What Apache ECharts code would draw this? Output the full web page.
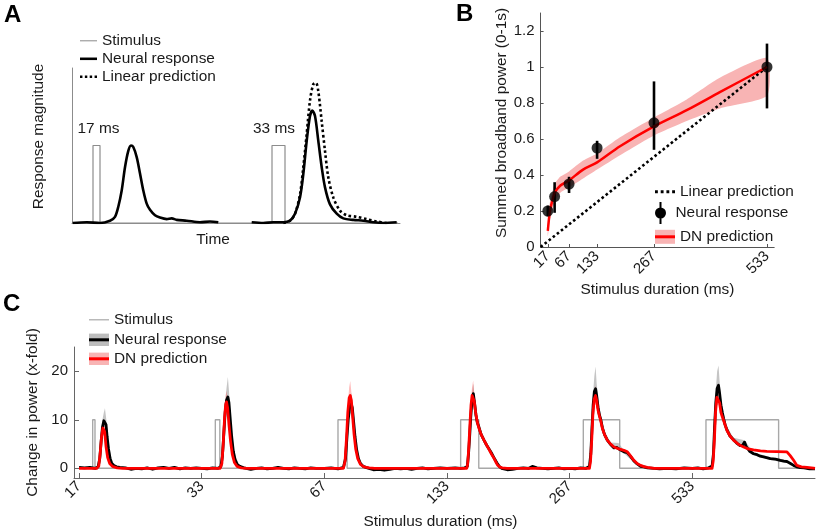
<!DOCTYPE html>
<html><head><meta charset="utf-8">
<script src="https://cdn.jsdelivr.net/npm/echarts@6/dist/echarts.min.js"></script>
<style>html,body{margin:0;padding:0;background:#fff}#c{width:820px;height:530px}</style>
</head><body><div id="c"></div>
<script>
// ================= Panel A data (time units, response relative to stimulus height) =================
const aSegStart = [0, 180];
const aSegEnd = [146, 326];
const aStimOn = [21, 200];
const aStimOff = [28, 213];
const aStimHeight = 1;
const aLabelText = ['17 ms', '33 ms'];
const aLabelX = [26.5, 202];
const aLabelY = [1.22, 1.22];
const aNeural17 = [[0.7,0],[14.7,0.01],[28,0],[38,0.03],[43,0.08],[46.3,0.21],[49.7,0.42],[53,0.72],[56.3,0.93],[59,1.0],[61.3,0.98],[64.7,0.85],[68,0.64],[71.3,0.42],[74.7,0.25],[78,0.17],[83,0.1],[88,0.07],[94.7,0.05],[99.7,0.06],[104.7,0.04],[114.7,0.03],[128,0.01],[138,0.02],[146.3,0.01]];
const aNeural33 = [[179.7,0.01],[191.3,0],[201.3,0.01],[211.3,0.01],[218,0.03],[223,0.12],[228,0.33],[231.3,0.63],[234.7,1.06],[238,1.38],[240.3,1.45],[243,1.38],[246.3,1.06],[249.7,0.72],[253,0.46],[258,0.24],[264.7,0.12],[271.3,0.06],[281.3,0.04],[291.3,0.03],[301.3,0.01],[311.3,0],[324.7,0.01]];
const aLinear33 = [[211.3,0],[218,0.03],[223,0.12],[228,0.37],[231.3,0.72],[234.7,1.15],[238,1.58],[241.3,1.79],[244,1.81],[246.3,1.70],[249.7,1.31],[253,0.93],[256.3,0.59],[261.3,0.33],[268,0.16],[274.7,0.1],[284.7,0.08],[294.7,0.05],[304.7,0.02],[314.7,0]];

// ================= Panel B data =================
const bDur = [17, 33, 67, 133, 267, 533];
const bNeural = [0.20, 0.28, 0.35, 0.55, 0.69, 1.00];
const bErrLo = [0.17, 0.19, 0.30, 0.49, 0.54, 0.77];
const bErrHi = [0.23, 0.36, 0.39, 0.59, 0.92, 1.13];
const bDnX = [17, 22, 28, 33, 46, 67, 100, 133, 187, 267, 344, 422, 533];
const bDnY = [0.09, 0.20, 0.26, 0.30, 0.34, 0.37, 0.43, 0.47, 0.56, 0.67, 0.76, 0.86, 1.0];
const bDnLo = [0.06, 0.15, 0.21, 0.25, 0.30, 0.33, 0.38, 0.43, 0.51, 0.62, 0.70, 0.77, 0.84];
const bDnHi = [0.13, 0.25, 0.31, 0.35, 0.39, 0.42, 0.48, 0.52, 0.61, 0.72, 0.82, 0.94, 1.05];
const bLinX = [0, 533];
const bLinY = [0, 1];
const bYTicks = [0, 0.2, 0.4, 0.6, 0.8, 1, 1.2];

// ================= Panel C data (ms relative to stimulus onset) =================
const cDur = [17, 33, 67, 133, 267, 533];
const cSegLen = 900;     // ms per trial window
const cOnset = 100;      // stimulus onset within window (ms)
const cStimHeight = 10;
const cYTicks = [0, 10, 20];
const cNeural = [
  [[-100,0.2],[-60,0.1],[-20,0.2],[20,0],[40,0.3],[52,2],[62,5.5],[72,8.5],[82,9.8],[90,10],[98,9],[106,6.5],[116,4],[128,2],[140,1],[155,0.6],[175,0.3],[200,0.2],[240,0.1],[280,-0.2],[320,0],[360,-0.1],[400,0.1],[440,-0.2],[480,0.1],[520,0.2],[560,0],[600,0.2],[640,-0.1],[680,0.1],[720,0],[760,0.1],[800,0]],
  [[-100,0.1],[-60,-0.1],[-20,0.1],[20,0],[40,0.3],[52,2.5],[62,7],[72,11.5],[82,14],[92,14.7],[100,13.5],[110,10],[120,6.5],[132,3.5],[145,1.8],[160,0.8],[180,0.4],[210,0.1],[260,-0.2],[300,0],[340,0.1],[380,-0.1],[420,0],[460,0.2],[500,0],[540,-0.1],[580,0.1],[620,0],[660,-0.1],[700,0.1],[740,0],[800,0]],
  [[-100,0],[-50,0.1],[0,-0.1],[40,0.2],[55,2],[65,6],[75,10],[85,12.5],[97,13.3],[105,12.5],[115,9.5],[125,6.5],[137,3.8],[150,2],[165,1],[185,0.4],[215,0.1],[260,-0.3],[300,-0.2],[340,-0.4],[380,-0.2],[420,0],[460,-0.1],[500,0],[540,-0.2],[580,0],[620,0.1],[660,-0.1],[700,0],[750,0.1],[800,0]],
  [[-100,0],[-40,0.1],[0,0],[30,0.1],[49,0.4],[58,3],[66,6.5],[74,10.5],[82,13.5],[93,15.4],[102,13.5],[112,11],[122,9.5],[134,8.5],[150,7],[171,5.8],[190,4.8],[208,4],[225,3.2],[244,2.2],[258,1.5],[269,1],[283,0.4],[300,0],[342,-0.3],[380,-0.2],[420,0],[460,0.1],[500,0],[526,0.4],[560,0.1],[600,0],[640,-0.1],[680,0],[720,0.1],[760,-0.1],[800,0]],
  [[-100,0],[-60,-0.1],[-20,0.1],[20,0],[45,0.4],[55,3],[63,8],[72,13],[81,15.8],[90,16.4],[98,15],[108,12.6],[118,11],[127,10.2],[140,8.4],[155,7],[176,5.8],[200,4.9],[225,4.2],[245,4.3],[258,4.7],[270,3.8],[298,3.4],[323,3.2],[345,2.5],[371,1.5],[395,0.9],[420,0.4],[445,0.3],[470,0.1],[520,0],[560,-0.1],[620,0],[680,-0.1],[740,0.1],[800,0]],
  [[-100,0],[-60,0.1],[-20,-0.1],[20,0.1],[45,0.5],[55,3],[63,8.5],[72,13.5],[82,16.5],[92,17.1],[100,15.5],[110,13],[120,11.5],[129,10.3],[140,9],[154,7.9],[175,6.7],[202,5.9],[225,5.2],[250,4.7],[268,4.7],[283,5.4],[295,4.5],[320,3.5],[349,3],[375,2.8],[398,2.5],[430,2.3],[472,2],[510,1.9],[545,1.65],[570,1.5],[594,1.4],[620,1],[643,0.6],[665,0.3],[692,0.15],[720,0.1],[760,-0.1],[800,-0.1]]
];
const cDN = [
  [[-100,0],[30,0],[45,0.5],[55,3],[65,6.5],[75,8.3],[80,8.5],[88,7.5],[98,4.5],[110,2.2],[125,1],[145,0.4],[180,0.1],[220,0],[800,0]],
  [[-100,0],[35,0],[48,1],[58,5],[68,10.5],[76,13.2],[82,13.7],[90,12.5],[100,9],[112,5.5],[125,2.8],[140,1.2],[160,0.4],[190,0.1],[230,0],[800,0]],
  [[-100,0],[40,0],[52,1.5],[62,6],[72,11.5],[82,14.5],[90,15],[98,14],[108,10.5],[118,7],[130,4],[145,2],[165,0.8],[190,0.3],[230,0.1],[270,0],[800,0]],
  [[-100,0],[45,0],[52,1],[60,4.5],[68,9],[76,13],[84,15],[92,15.3],[100,13.8],[110,11.5],[122,9.5],[134,8.3],[150,7],[171,5.8],[190,4.8],[208,3.9],[225,3],[244,2.1],[258,1.3],[270,0.7],[285,0.3],[305,0.1],[340,0],[800,0]],
  [[-100,0],[45,0],[53,1.5],[62,6],[70,11],[80,14.3],[90,15],[98,14],[108,12],[118,10.8],[127,9.9],[140,8.2],[155,7],[176,5.8],[200,5],[225,4.4],[260,4],[298,3.7],[323,3.4],[345,2.6],[371,1.65],[395,1],[420,0.6],[445,0.35],[470,0.2],[520,0],[800,0]],
  [[-100,0],[45,0],[53,1.5],[62,6],[70,11.5],[80,14.6],[92,15],[100,13.5],[110,11.5],[129,9.9],[154,7.8],[178,6.6],[202,5.8],[240,4.9],[276,4.4],[310,4],[349,3.8],[400,3.6],[447,3.5],[520,3.45],[594,3.4],[618,2.6],[643,1.65],[667,0.6],[700,0.3],[741,0.2],[789,0.05],[800,0]]
];
// [t, lower, upper]
const cNeuralBand = [
  [[50,0.5,1.5],[62,4,7],[72,7,10],[82,8.5,11.5],[90,8.5,12.4],[98,7.5,10.5],[108,5,8],[120,2.8,4.8],[135,1.2,2.4],[155,0.4,0.9]],
  [[50,1.5,3.5],[62,5.5,8.5],[72,9.5,13.5],[82,12,16.5],[92,12.5,18.8],[100,11.5,16],[110,8.5,11.5],[122,5.5,7.5],[135,2.8,4.2],[150,1.3,2.3],[170,0.5,1.1]],
  [[55,1.2,2.8],[65,4.8,7.2],[75,8.5,11.5],[85,11,14.2],[97,11.5,15.5],[105,11,14],[115,8.3,10.7],[125,5.5,7.5],[137,3.2,4.4],[150,1.6,2.4]],
  [[58,2.3,3.7],[66,5.5,7.5],[74,9,12],[82,12,15.2],[93,13.6,17.5],[102,12.3,14.8],[112,10.2,11.8],[134,8,9],[171,5.4,6.2],[208,3.6,4.4],[244,1.8,2.6],[270,0.7,1.3]],
  [[55,2,4],[63,6.5,9.5],[72,11,15.5],[81,13.5,19],[90,13.5,21],[98,12.8,17.5],[108,11.3,14.7],[118,10.3,12.7],[127,9.5,11.5],[140,7.8,9.2],[160,6.3,7.3],[200,4.7,5.3],[258,4.2,5.2],[298,3.1,3.7],[347,1.8,2.2]],
  [[55,2,4],[63,7,10],[72,11.5,16],[82,14.5,20],[92,14.5,21.2],[100,13,18],[110,11.5,14.5],[129,9.5,11.5],[154,7.4,8.6],[202,5.5,6.3],[283,4.8,5.8],[349,2.7,3.3],[472,1.7,2.3],[594,1.1,1.7]]
];
const cDNBand = [
  [[48,0.7,1.3],[58,2.5,4.5],[68,5.5,8],[78,7.5,9.5],[86,7,9],[98,3.8,5.2],[112,1.8,2.6],[130,0.6,1.2]],
  [[48,0.6,1.4],[58,4,6],[68,9,12],[76,11.5,15],[82,12,16],[90,11,14],[100,8,10],[112,4.8,6.2],[125,2.3,3.3],[145,0.8,1.4]],
  [[52,1,2],[62,4.8,7.2],[72,9.8,13.2],[82,12.5,16.7],[90,12.8,18],[98,12.2,15.8],[108,9.3,11.7],[118,6.2,7.8],[130,3.5,4.5],[145,1.7,2.3]],
  [[52,0.7,1.3],[60,3.8,5.2],[68,8,10],[76,11.5,14.5],[84,13.3,16.8],[92,13.6,18.1],[100,12.3,15.3],[110,10.5,12.5],[122,9,10],[134,7.9,8.7]],
  [[53,1,2],[62,5,7],[70,9.8,12.2],[80,12.8,15.8],[90,13.2,17],[98,12.6,15.4],[108,11,13],[127,9.3,10.5],[155,6.6,7.4]],
  [[53,1,2],[62,5,7],[70,10,13],[80,13,16.3],[92,13.2,17],[100,12,15],[110,10.5,12.5],[129,9.3,10.5],[154,7.4,8.2]]
];

// ================= Build =================
const FONT = '"Liberation Sans", Arial, Helvetica, sans-serif';
const TXT = '#1a1a1a';
const RED = '#ff0000';
const FS = 15.4;   // general text size
const TS = 15;     // tick label size

function stimSteps(starts, ons, offs, ends, h) {
  const pts = [];
  for (let i = 0; i < ons.length; i++) {
    pts.push([starts[i], 0], [ons[i], 0], [ons[i], h], [offs[i], h], [offs[i], 0], [ends[i], 0]);
  }
  return pts;
}
const cSegStart = cDur.map((d, k) => k * cSegLen);
const cSegEnd = cDur.map((d, k) => (k + 1) * cSegLen);
const cOn = cSegStart.map(s => s + cOnset);
const cOff = cDur.map((d, k) => cOn[k] + d);
function cAbs(segs) {
  const out = [];
  segs.forEach((arr, k) => arr.forEach(p => out.push([cOn[k] + p[0], p[1]])));
  return out;
}
function bandRender(bands, fill) {
  return function (params, api) {
    const k = params.dataIndex;
    const band = bands[k];
    const up = band.map(p => api.coord([cOn[k] + p[0], p[2]]));
    const lo = band.slice().reverse().map(p => api.coord([cOn[k] + p[0], p[1]]));
    return { type: 'polygon', shape: { points: up.concat(lo) }, style: { fill: fill } };
  };
}
// one legend component per row (overlay rows use transparent text so they align exactly)
function lg(name, icon, color, left, top, w, h, overlay) {
  return {
    orient: 'horizontal', left: left, top: top, padding: 0, itemWidth: w, itemHeight: h, selectedMode: false,
    textStyle: { fontSize: FS, color: overlay ? 'rgba(0,0,0,0)' : TXT, fontFamily: FONT },
    itemStyle: { borderWidth: 0 },
    data: [{ name: name, icon: icon, itemStyle: { color: color, borderWidth: 0 } }]
  };
}
const ICON_THIN = 'path://M0,0h20v1.2h-20z';
const ICON_THICK = 'path://M0,0h20v3h-20z';
const ICON_DOT = 'path://M0,0h3v3h-3z M6,0h3v3h-3z M12,0h3v3h-3z M18,0h3v3h-3z';
const ICON_ERR = 'path://M5,0h2v22h-2z M0.5,11a5.5,5.5 0 1,1 11,0a5.5,5.5 0 1,1 -11,0z';
const ICON_BAND14 = 'path://M0,0h20v14h-20z';
const ICON_BAND13 = 'path://M0,0h21v13h-21z';

const axisLbl = { fontSize: TS, color: TXT, fontFamily: FONT };
const nameStyle = { fontSize: FS, color: TXT, fontFamily: FONT };
const HALF = FS / 2 - 2;

const option = {
  animation: false,
  backgroundColor: '#fff',
  textStyle: { fontFamily: FONT },
  title: [
    { text: 'A', left: 4, top: 3, padding: 0, textStyle: { fontSize: 24, fontWeight: 'bold', color: '#000', fontFamily: FONT } },
    { text: 'B', left: 456, top: 2, padding: 0, textStyle: { fontSize: 24, fontWeight: 'bold', color: '#000', fontFamily: FONT } },
    { text: 'C', left: 3, top: 292, padding: 0, textStyle: { fontSize: 24, fontWeight: 'bold', color: '#000', fontFamily: FONT } }
  ],
  grid: [
    { left: 72, top: 68, width: 328, height: 155 },
    { left: 540.6, top: 13, width: 233.6, height: 234 },
    { left: 74, top: 347, width: 741, height: 131 }
  ],
  xAxis: [
    { gridIndex: 0, type: 'value', min: 0, max: 328,
      axisLine: { show: true, lineStyle: { color: '#8c8c8c', width: 1 } }, axisTick: { show: false }, axisLabel: { show: false }, splitLine: { show: false },
      name: 'Time', nameLocation: 'middle', nameGap: 9, nameTextStyle: Object.assign({ padding: [0, 46, 0, 0] }, nameStyle) },
    { gridIndex: 1, type: 'value', min: 0, max: 550,
      axisLine: { show: true, onZero: false, lineStyle: { color: '#555', width: 1 } },
      axisTick: { show: true, inside: true, length: 3, customValues: bDur, lineStyle: { color: '#555' } },
      axisLabel: Object.assign({ customValues: bDur, rotate: 45, margin: 7, showMinLabel: true, showMaxLabel: true, hideOverlap: false }, axisLbl), splitLine: { show: false },
      name: 'Stimulus duration (ms)', nameLocation: 'middle', nameGap: 35, nameTextStyle: nameStyle },
    { gridIndex: 2, type: 'value', min: -37, max: 5400,
      axisLine: { show: true, onZero: false, lineStyle: { color: '#666', width: 1 } },
      axisTick: { show: true, inside: true, length: 5, customValues: cSegStart, lineStyle: { color: '#666' } },
      axisLabel: Object.assign({ customValues: cSegStart, rotate: 45, margin: 6, showMinLabel: true, showMaxLabel: true, formatter: v => String(cDur[Math.round(v / cSegLen)]) }, axisLbl),
      splitLine: { show: false },
      name: 'Stimulus duration (ms)', nameLocation: 'middle', nameGap: 36, nameTextStyle: Object.assign({ padding: [0, 8, 0, 0] }, nameStyle) }
  ],
  yAxis: [
    { gridIndex: 0, type: 'value', min: 0, max: 2,
      axisLine: { show: true, lineStyle: { color: '#8c8c8c', width: 1 } }, axisTick: { show: false }, axisLabel: { show: false }, splitLine: { show: false },
      name: 'Response magnitude', nameLocation: 'middle', nameGap: 26, nameTextStyle: Object.assign({ padding: [0, 0, 0, 18] }, nameStyle) },
    { gridIndex: 1, type: 'value', min: 0, max: 1.3,
      axisLine: { show: true, onZero: false, lineStyle: { color: '#555', width: 1 } },
      axisTick: { show: true, inside: true, length: 3, customValues: bYTicks, lineStyle: { color: '#555' } },
      axisLabel: Object.assign({ customValues: bYTicks, margin: 6, showMinLabel: true, showMaxLabel: true }, axisLbl), splitLine: { show: false },
      name: 'Summed broadband power (0-1s)', nameLocation: 'middle', nameGap: 31, nameTextStyle: Object.assign({ padding: [0, 0, 0, 14] }, nameStyle) },
    { gridIndex: 2, type: 'value', min: -2, max: 25,
      axisLine: { show: true, onZero: false, lineStyle: { color: '#666', width: 1 } },
      axisTick: { show: true, inside: true, length: 5, customValues: cYTicks, lineStyle: { color: '#666' } },
      axisLabel: Object.assign({ customValues: cYTicks, margin: 6, showMinLabel: true, showMaxLabel: true }, axisLbl), splitLine: { show: false },
      name: 'Change in power (x-fold)', nameLocation: 'middle', nameGap: 28, nameTextStyle: nameStyle }
  ],
  legend: [
    // Panel A
    lg('Stimulus', ICON_THIN, '#8c8c8c', 80, 39 - HALF, 17, 14),
    lg('Neural response', ICON_THICK, '#000', 80, 57 - HALF, 17, 14),
    lg('Linear prediction', ICON_DOT, '#000', 80, 75 - HALF, 17, 14),
    // Panel B
    lg('Linear prediction', ICON_DOT, '#000', 655, 190 - HALF, 20, 22),
    lg('Neural response', ICON_ERR, '#000', 655, 213 - 11, 20, 22),
    lg('DN prediction', ICON_BAND14, '#f8b4b4', 655, 235 - HALF, 20, 22),
    lg('DN prediction', ICON_THICK, RED, 655, 235 - HALF, 20, 22, true),
    // Panel C
    lg('Stimulus', ICON_THIN, '#a8a8a8', 89, 318 - HALF, 20, 15),
    lg('Neural response', ICON_BAND13, '#bdbdbd', 89, 338 - HALF, 20, 15),
    lg('Neural response', ICON_THICK, '#000', 89, 338 - HALF, 20, 15, true),
    lg('DN prediction', ICON_BAND13, '#f8b4b4', 89, 357 - HALF, 20, 15),
    lg('DN prediction', ICON_THICK, RED, 89, 357 - HALF, 20, 15, true)
  ],
  series: [
    // ---------- Panel A ----------
    { type: 'line', name: 'Stimulus', xAxisIndex: 0, yAxisIndex: 0, symbol: 'none', silent: true,
      data: stimSteps(aSegStart, aStimOn, aStimOff, aSegEnd, aStimHeight),
      lineStyle: { color: '#8c8c8c', width: 1.2 }, itemStyle: { color: '#8c8c8c' },
      markPoint: { symbol: 'circle', symbolSize: 0, silent: true,
        label: { show: true, position: 'inside', fontSize: FS, color: TXT, fontFamily: FONT },
        data: aLabelText.map((t, i) => ({ coord: [aLabelX[i], aLabelY[i]], label: { formatter: t } })) } },
    { type: 'line', name: 'Linear prediction', xAxisIndex: 0, yAxisIndex: 0, symbol: 'none', silent: true, smooth: 0.3,
      data: aLinear33, lineStyle: { color: '#000', width: 2.6, type: 'dotted' }, itemStyle: { color: '#000' } },
    { type: 'line', name: 'Neural response', xAxisIndex: 0, yAxisIndex: 0, symbol: 'none', silent: true, smooth: 0.3,
      data: aNeural17, lineStyle: { color: '#000', width: 2.6 }, itemStyle: { color: '#000' } },
    { type: 'line', name: 'Neural response', xAxisIndex: 0, yAxisIndex: 0, symbol: 'none', silent: true, smooth: 0.3,
      data: aNeural33, lineStyle: { color: '#000', width: 2.6 }, itemStyle: { color: '#000' } },

    // ---------- Panel B ----------
    { type: 'custom', name: 'DN band B', xAxisIndex: 1, yAxisIndex: 1, silent: true, clip: true,
      data: [[bDnX[0], bDnY[0]]],
      renderItem: function (params, api) {
        const up = bDnX.map((x, i) => api.coord([x, bDnHi[i]]));
        const lo = bDnX.map((x, i) => api.coord([x, bDnLo[i]])).reverse();
        return { type: 'polygon', shape: { points: up.concat(lo), smooth: 0.2 }, style: { fill: '#f8b4b4' } };
      } },
    { type: 'line', name: 'Linear prediction', xAxisIndex: 1, yAxisIndex: 1, symbol: 'none', silent: true,
      data: bLinX.map((x, i) => [x, bLinY[i]]), lineStyle: { color: '#000', width: 2.6, type: 'dotted' }, itemStyle: { color: '#000' } },
    { type: 'line', name: 'DN prediction', xAxisIndex: 1, yAxisIndex: 1, symbol: 'none', silent: true, smooth: 0.3,
      data: bDnX.map((x, i) => [x, bDnY[i]]), lineStyle: { color: RED, width: 2.5 }, itemStyle: { color: RED } },
    { type: 'custom', name: 'Neural error', xAxisIndex: 1, yAxisIndex: 1, silent: true,
      data: bDur.map((d, i) => [d, bErrLo[i], bErrHi[i]]), encode: { x: 0, y: [1, 2] },
      renderItem: function (params, api) {
        const p1 = api.coord([api.value(0), api.value(1)]);
        const p2 = api.coord([api.value(0), api.value(2)]);
        return { type: 'line', shape: { x1: p1[0], y1: p1[1], x2: p2[0], y2: p2[1] }, style: { stroke: '#000', lineWidth: 2.6 } };
      }, z: 3 },
    { type: 'scatter', name: 'Neural response', xAxisIndex: 1, yAxisIndex: 1, silent: true, symbol: 'circle', symbolSize: 11,
      data: bDur.map((d, i) => [d, bNeural[i]]), itemStyle: { color: '#000' }, z: 4 },

    // ---------- Panel C ----------
    { type: 'line', name: 'Stimulus', xAxisIndex: 2, yAxisIndex: 2, symbol: 'none', silent: true,
      data: stimSteps(cSegStart, cOn, cOff, cSegEnd, cStimHeight), lineStyle: { color: '#a8a8a8', width: 1.4 }, itemStyle: { color: '#a8a8a8' } },
    { type: 'custom', name: 'Neural band C', xAxisIndex: 2, yAxisIndex: 2, silent: true, clip: true,
      data: cOn.map(x => [x, 0]), renderItem: bandRender(cNeuralBand, 'rgba(150,150,150,0.55)') },
    { type: 'custom', name: 'DN band C', xAxisIndex: 2, yAxisIndex: 2, silent: true, clip: true,
      data: cOn.map(x => [x, 0]), renderItem: bandRender(cDNBand, 'rgba(255,90,90,0.4)') },
    { type: 'line', name: 'Neural response', xAxisIndex: 2, yAxisIndex: 2, symbol: 'none', silent: true,
      data: cAbs(cNeural), lineStyle: { color: '#000', width: 2.8, join: 'round' }, itemStyle: { color: '#000' } },
    { type: 'line', name: 'DN prediction', xAxisIndex: 2, yAxisIndex: 2, symbol: 'none', silent: true,
      data: cAbs(cDN), lineStyle: { color: RED, width: 2.8, join: 'round' }, itemStyle: { color: RED } }
  ]
};

const chart = echarts.init(document.getElementById('c'), null, { renderer: 'canvas', width: 820, height: 530 });
chart.setOption(option);
</script>
</body></html>
